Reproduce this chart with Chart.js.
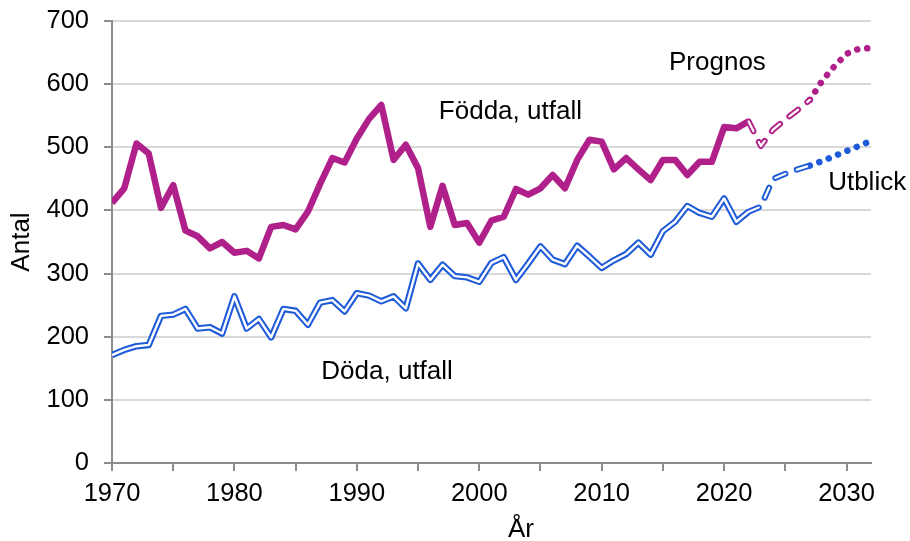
<!DOCTYPE html>
<html>
<head>
<meta charset="utf-8">
<script src="https://cdn.jsdelivr.net/npm/chart.js@4/dist/chart.umd.min.js"></script>
<style>
  html, body { margin: 0; padding: 0; background: #fff; }
</style>
</head>
<body>
<canvas id="chart" width="910" height="541"></canvas>
<script>
const firstYear = 1970;

// Födda, utfall 1970-2022
const births = [
    412, 435, 506, 490, 404, 440, 368, 359, 340, 350,
    333, 336, 324, 374, 377, 370, 398, 442, 483, 476,
    514, 545, 567, 480, 504, 467, 374, 439, 377, 380,
    349, 384, 390, 434, 425, 435, 456, 435, 480, 512,
    509, 465, 483, 465, 448, 480, 480, 456, 477, 477,
    532, 530, 541
];

// Döda, utfall 1970-2022
const deaths = [
    171, 179, 185, 187, 233, 235, 244, 213, 215, 205,
    264, 213, 228, 199, 244, 241, 219, 254, 258, 240,
    269, 265, 256, 264, 245, 316, 290, 314, 296, 294,
    287, 317, 326, 290, 316, 343, 322, 315, 344, 327,
    309, 321, 331, 349, 330, 367, 382, 407, 396, 390,
    419, 382, 398
];

// Prognos 2022-2027 and utblick 2027-2032
const prognosYears = [2022, 2023, 2024, 2025, 2026, 2027];
const birthsPrognos = [541, 502, 528, 544, 559, 575];
const deathsPrognos = [398, 406, 450, 458, 465, 471];

const outlookYears = [2027, 2028, 2029, 2030, 2031, 2032];
const birthsOutlook = [575, 605, 628, 648, 656, 657];
const deathsOutlook = [471, 478, 486, 494, 502, 510];

const yTicks = [0, 100, 200, 300, 400, 500, 600, 700];

const MAGENTA = '#b0208a';
const BLUE = '#1f5bd8';
const AXIS = '#8c8c8c';
const GRID = '#d9d9d9';
const FONT = '"Liberation Sans", Arial, sans-serif';

const toPoints = (years, vals) => vals.map((v, i) => ({ x: years[i], y: v }));
const outcomeYears = births.map((_, i) => firstYear + i);

const base = { pointRadius: 0, tension: 0, fill: false, borderJoinStyle: 'round' };
const dash = [11, 12];
const dots = [0.1, 10];

const datasets = [
    // Födda
    { ...base, data: toPoints(outcomeYears, births), borderColor: MAGENTA, borderWidth: 6.5, order: 2 },
    { ...base, data: toPoints(prognosYears, birthsPrognos), borderColor: '#fff', borderWidth: 2.2,
      borderDash: dash, borderCapStyle: 'round', order: 1 },
    { ...base, data: toPoints(prognosYears, birthsPrognos), borderColor: MAGENTA, borderWidth: 6,
      borderDash: dash, borderCapStyle: 'round', order: 2 },
    { ...base, data: toPoints(outlookYears, birthsOutlook), borderColor: MAGENTA, borderWidth: 6.5,
      borderDash: dots, borderCapStyle: 'round', order: 2 },
    // Döda
    { ...base, data: toPoints(outcomeYears, deaths), borderColor: '#fff', borderWidth: 2.4, order: 1 },
    { ...base, data: toPoints(outcomeYears, deaths), borderColor: BLUE, borderWidth: 6.5, order: 2 },
    { ...base, data: toPoints(prognosYears, deathsPrognos), borderColor: '#fff', borderWidth: 2.2,
      borderDash: dash, borderCapStyle: 'round', order: 1 },
    { ...base, data: toPoints(prognosYears, deathsPrognos), borderColor: BLUE, borderWidth: 6,
      borderDash: dash, borderCapStyle: 'round', order: 2 },
    { ...base, data: toPoints(outlookYears, deathsOutlook), borderColor: BLUE, borderWidth: 6.5,
      borderDash: dots, borderCapStyle: 'round', order: 2 }
];

// text labels placed in data coordinates
const labels = [
    { text: 'Födda, utfall', x: 1996.7, y: 556 },
    { text: 'Prognos', x: 2015.5, y: 634 },
    { text: 'Utblick', x: 2028.5, y: 443 },
    { text: 'Döda, utfall', x: 1987.1, y: 144 }
];

const textPlugin = {
    id: 'texts',
    afterDraw(chart) {
        const { ctx, scales: { x, y }, chartArea } = chart;
        ctx.save();
        ctx.fillStyle = '#000';
        ctx.font = '26px ' + FONT;
        ctx.textBaseline = 'middle';
        ctx.textAlign = 'left';
        labels.forEach(l => ctx.fillText(l.text, x.getPixelForValue(l.x), y.getPixelForValue(l.y)));
        ctx.textAlign = 'center';
        ctx.fillText('År', x.getPixelForValue(2003.4), chartArea.bottom + 67);
        ctx.restore();
    }
};

new Chart(document.getElementById('chart'), {
    type: 'line',
    data: { datasets },
    plugins: [textPlugin],
    options: {
        responsive: false,
        animation: false,
        devicePixelRatio: 1,
        layout: { padding: { top: 21, right: 39, left: 0, bottom: 0 } },
        plugins: { legend: { display: false }, tooltip: { enabled: false } },
        scales: {
            x: {
                type: 'linear',
                min: 1970,
                max: 2032,
                afterFit: s => { s.height = 78; s.paddingLeft = 0; s.paddingRight = 0; },
                border: { color: AXIS, width: 2 },
                grid: { drawOnChartArea: false, drawTicks: true, tickLength: 8, tickColor: AXIS, lineWidth: 2 },
                ticks: {
                    stepSize: 5,
                    includeBounds: false,
                    autoSkip: false,
                    maxRotation: 0,
                    padding: 8,
                    color: '#000',
                    font: { family: FONT, size: 25.5 },
                    callback: v => (v % 10 === 0 ? String(v) : '')
                }
            },
            y: {
                min: 0,
                max: 700,
                afterFit: s => { s.width = 112; s.paddingTop = 0; s.paddingBottom = 0; },
                afterBuildTicks: s => { s.ticks = yTicks.map(v => ({ value: v })); },
                border: { color: AXIS, width: 2 },
                grid: {
                    color: ctx => (ctx.tick && ctx.tick.value === 0 ? 'rgba(0,0,0,0)' : GRID),
                    lineWidth: 2, tickLength: 8, tickColor: AXIS
                },
                ticks: { padding: 15, color: '#000', font: { family: FONT, size: 25.5 } },
                title: { display: true, text: 'Antal', color: '#000', font: { family: FONT, size: 26 },
                         padding: { top: 6, bottom: 0 } }
            }
        }
    }
});
</script>
</body>
</html>
